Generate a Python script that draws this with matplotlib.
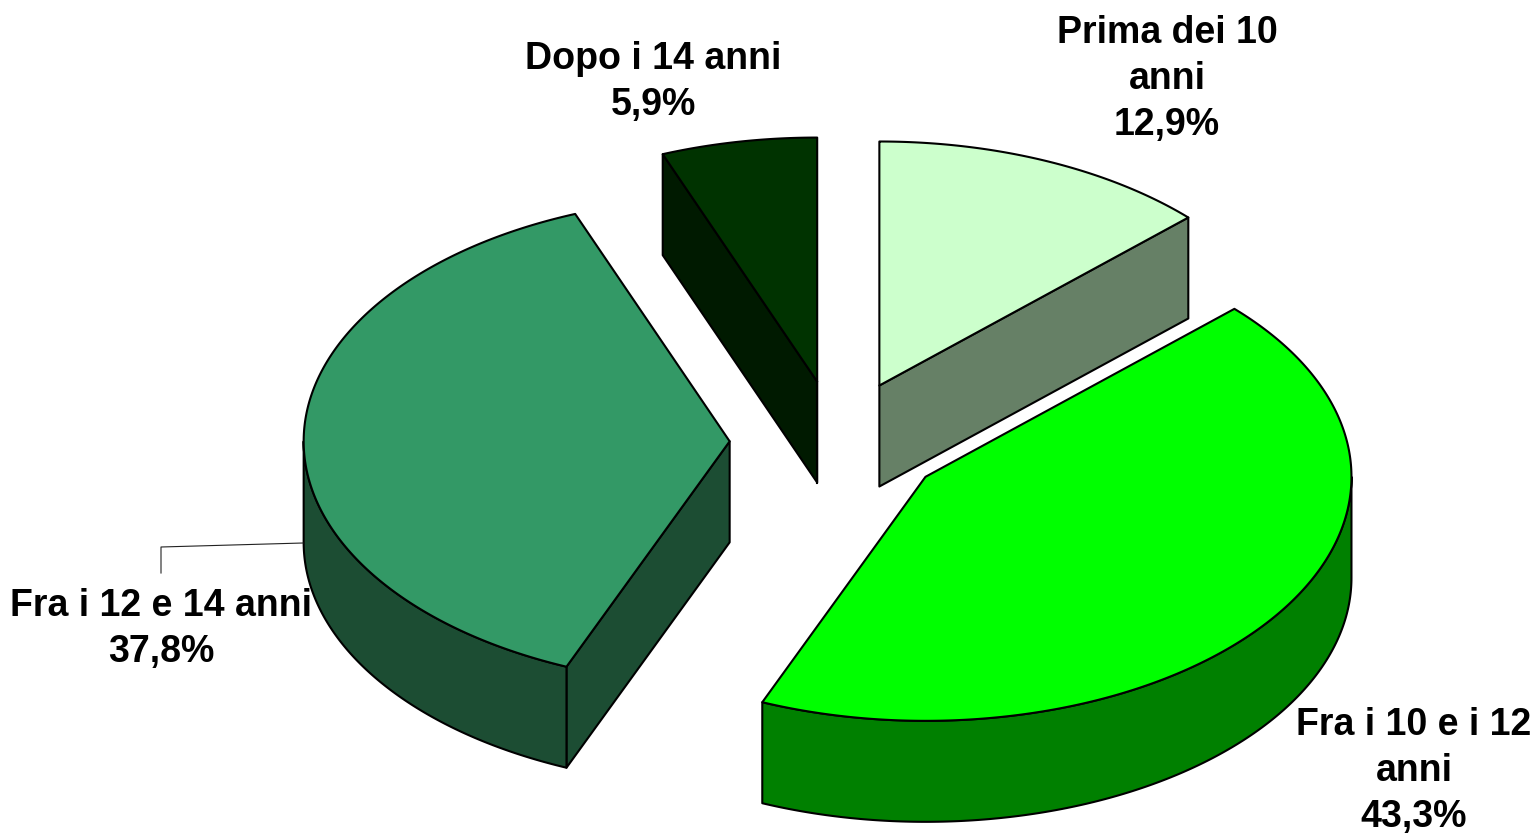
import numpy as np
import matplotlib
matplotlib.use("Agg")
import matplotlib.pyplot as plt
from matplotlib.patches import Polygon

plt.rcParams["font.family"] = ["Liberation Sans", "DejaVu Sans"]

# dati
labels = ["Prima dei 10\nanni", "Fra i 10 e i 12\nanni", "Fra i 12 e 14 anni", "Dopo i 14 anni"]
values = [12.9, 43.3, 37.8, 5.9]
value_text = ["12,9%", "43,3%", "37,8%", "5,9%"]

# stile
top_colors = ["#CCFFCC", "#00FF00", "#339966", "#003300"]
side_colors = ["#668066", "#008000", "#1C4D33", "#001A00"]
label_pos = [(1167, 79), (1414, 771), (161, 629), (653, 82)]

# geometria della torta (pixel)
cx, cy = 837, 442
a, b = 426, 244
depth = 101
explode = 0.252

W, H = 1537, 833
fig = plt.figure(figsize=(W / 100, H / 100), dpi=100)
ax = fig.add_axes([0, 0, 1, 1])
ax.set_xlim(0, W)
ax.set_ylim(H, 0)
ax.axis("off")


def point(t, x0, y0):
    return np.column_stack([x0 + a * np.sin(t), y0 - b * np.cos(t)])


def draw(xy, color, z):
    ax.add_patch(Polygon(xy, closed=True, fc=color, ec="black", lw=1.5, joinstyle="round", zorder=z))


angles = np.radians(np.concatenate([[0], np.cumsum(values)]) * 360 / sum(values))

for i in range(len(values)):
    t0, t1 = angles[i], angles[i + 1]
    tm = (t0 + t1) / 2
    x0 = cx + explode * a * np.sin(tm)
    y0 = cy - explode * b * np.cos(tm)
    apex = np.array([[x0, y0]])
    down = np.array([0, depth])

    # facce radiali visibili
    if np.sin(t0) < -1e-6:
        p = point(np.array([t0]), x0, y0)
        draw(np.vstack([apex, p, p + down, apex + down]), side_colors[i], 2)
    if np.sin(t1) > 1e-6:
        p = point(np.array([t1]), x0, y0)
        draw(np.vstack([apex, p, p + down, apex + down]), side_colors[i], 2)
    if i == len(values) - 1:
        # spessore sul bordo destro della fetta
        ax.plot([x0, x0], [y0, y0 + depth], color="black", lw=1.5, zorder=3)

    # bordo esterno, solo la parte davanti
    lo, hi = max(t0, np.pi / 2), min(t1, 3 * np.pi / 2)
    if hi > lo:
        ts = np.linspace(lo, hi, 200)
        arc = point(ts, x0, y0)
        draw(np.vstack([arc, arc[::-1] + down]), side_colors[i], 2)

    # faccia superiore
    ts = np.linspace(t0, t1, 300)
    draw(np.vstack([apex, point(ts, x0, y0)]), top_colors[i], 4)

# linea guida dell'etichetta
ax.plot([303, 161, 161], [543, 547, 573], color="#222222", lw=0.8, zorder=5)

for lab, val, (x, y) in zip(labels, value_text, label_pos):
    ax.text(x, y, lab + "\n" + val, ha="center", va="center", fontsize=27,
            fontweight="bold", color="black", linespacing=1.34, zorder=6)

fig.savefig("out.png", dpi=100, facecolor="white")
